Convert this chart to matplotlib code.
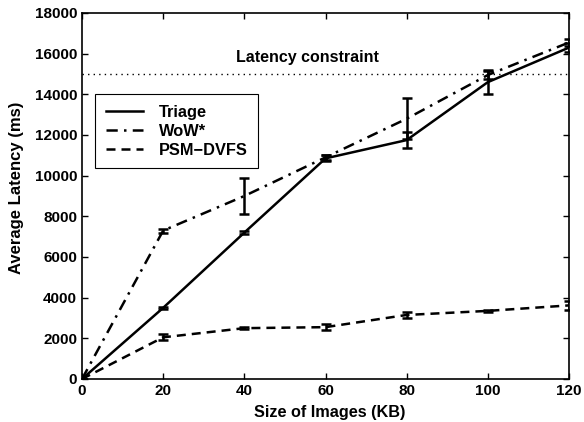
import matplotlib
matplotlib.use('Agg')
import matplotlib.pyplot as plt
from matplotlib.lines import Line2D

plt.rcParams['font.family'] = ['Liberation Sans', 'DejaVu Sans']
plt.rcParams['font.weight'] = 'bold'

sizes = [0, 20, 40, 60, 80, 100, 120]

triage = [0, 3500, 7200, 10850, 11750, 14600, 16300]
triage_err = [0, 60, 60, 150, 400, 600, 200]

wow = [0, 7300, 9000, 10900, 12800, 14950, 16550]
wow_err = [0, 100, 900, 120, 1000, 200, 150]

psm = [0, 2050, 2500, 2550, 3150, 3350, 3620]
psm_err = [0, 150, 50, 150, 150, 50, 230]

constraint = 15000

labels = ['Triage', 'WoW*', 'PSM\u2212DVFS']
styles = ['-', (0, (4.5, 2.5, 1, 2.5)), (0, (3.6, 2.4))]

fig = plt.figure(figsize=(5.84, 4.22), dpi=100)
ax = fig.add_axes([82 / 584, 1 - 379 / 422, 487 / 584, 366 / 422])

lw = 1.8
for ys, err, ls in zip([triage, wow, psm], [triage_err, wow_err, psm_err], styles):
    ax.errorbar(sizes, ys, yerr=err, ls=ls, color='black', lw=lw,
                capsize=3.5, elinewidth=lw, capthick=lw)

ax.axhline(constraint, color='black', lw=1, ls=(0, (1, 3)))
ax.text(38, 15800, 'Latency constraint', fontsize=11.5, fontweight='bold', va='center')

ax.set_xlim(0, 120)
ax.set_ylim(0, 18000)
ax.set_xticks(range(0, 121, 20))
ax.set_yticks(range(0, 18001, 2000))
ax.tick_params(direction='in', top=True, right=True, labelsize=11, length=4, width=1)
for lab in ax.get_xticklabels() + ax.get_yticklabels():
    lab.set_fontweight('bold')
for s in ax.spines.values():
    s.set_linewidth(1.2)

ax.set_xlabel('Size of Images (KB)', fontsize=11.7, fontweight='bold')
ax.set_ylabel('Average Latency (ms)', fontsize=12, fontweight='bold')
ax.xaxis.set_label_coords(0.508, -0.072)
ax.yaxis.set_label_coords(-0.119, 0.522)

handles = [Line2D([], [], color='black', lw=lw, ls=ls) for ls in styles]
leg = ax.legend(handles, labels, loc='upper left', bbox_to_anchor=(0.0267, 0.779),
                borderaxespad=0, fancybox=False, edgecolor='black', fontsize=11.8,
                handlelength=2.25, handletextpad=1.0, borderpad=0.65,
                labelspacing=0.25, framealpha=1)
leg.get_frame().set_linewidth(0.8)

fig.savefig('out.png', dpi=100)
